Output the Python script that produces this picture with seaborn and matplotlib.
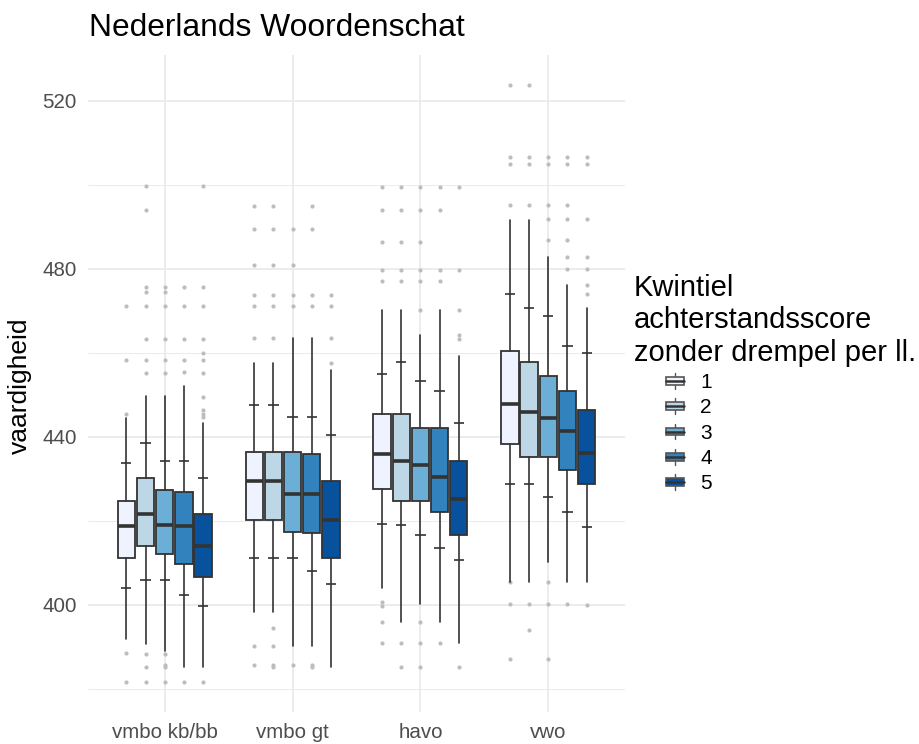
import numpy as np
import pandas as pd
import matplotlib
matplotlib.use("Agg")
import matplotlib.pyplot as plt
import seaborn as sns
from matplotlib.patches import Patch, Rectangle
from matplotlib.lines import Line2D
from matplotlib.legend_handler import HandlerBase

# ---------------- data ----------------
categories = ["vmbo kb/bb", "vmbo gt", "havo", "vwo"]
quintiles = ["1", "2", "3", "4", "5"]
colors = ["#EFF3FF", "#BDD7E7", "#6BAED6", "#3182BD", "#08519C"]

whisker_high = [[444.5, 449.8, 449.8, 452.1, 443.4],
                [457.6, 457.6, 463.6, 463.6, 456.0],
                [470.2, 470.2, 464.3, 470.2, 459.2],
                [491.7, 491.7, 482.8, 476.2, 470.7]]
tick_high = [[433.7, 438.6, 434.3, 434.3, 430.3],
             [447.6, 447.6, 444.8, 444.8, 440.5],
             [455.0, 457.9, 453.2, 451.0, 443.4],
             [474.0, 470.7, 468.8, 461.7, 460.0]]
q3 = [[424.7, 430.3, 427.3, 426.9, 421.7],
      [436.3, 436.3, 436.3, 435.9, 429.4],
      [445.4, 445.4, 442.1, 442.1, 434.3],
      [460.4, 457.9, 454.4, 451.0, 446.4]]
median = [[418.7, 421.7, 419.1, 418.7, 414.0],
          [429.4, 429.4, 426.3, 426.3, 420.2],
          [436.0, 434.3, 433.2, 430.4, 425.2],
          [447.8, 446.0, 444.6, 441.5, 436.1]]
q1 = [[411.1, 414.0, 412.0, 409.8, 406.7],
      [420.2, 420.2, 417.3, 417.1, 411.2],
      [427.6, 424.8, 424.8, 422.2, 416.7],
      [438.3, 435.2, 435.2, 432.0, 428.8]]
tick_low = [[403.9, 405.9, 405.9, 402.3, 399.8],
            [411.2, 411.2, 411.2, 408.1, 405.0],
            [419.3, 418.9, 416.7, 413.6, 410.8],
            [428.8, 428.8, 425.6, 422.0, 418.6]]
whisker_low = [[391.9, 390.8, 389.0, 385.1, 385.1],
               [398.3, 398.3, 390.1, 390.1, 385.2],
               [404.0, 395.9, 400.1, 395.9, 390.9],
               [405.5, 405.5, 410.1, 405.5, 405.5]]

outliers_kbbb = [
    [445.5, 458.2, 471.2, 388.6, 381.6],
    [499.8, 493.9, 475.7, 474.5, 471.2, 463.3, 458.2, 455.2, 388.2, 385.1, 381.6],
    [475.7, 474.5, 471.2, 463.3, 458.2, 455.2, 388.2, 385.8, 385.1, 381.6],
    [475.7, 471.2, 463.3, 458.2, 455.4, 381.6],
    [499.8, 475.7, 471.2, 463.3, 459.9, 458.2, 455.2, 449.6, 446.3, 445.5, 444.7, 381.6],
]
outliers_gt = [
    [494.9, 489.4, 480.8, 473.7, 471.1, 463.6, 390.3, 385.8],
    [494.9, 489.4, 480.8, 473.7, 471.1, 463.6, 394.4, 390.3, 385.8, 385.2],
    [489.4, 480.8, 473.7, 471.1, 385.8],
    [494.9, 489.4, 473.7, 471.1, 385.8, 385.2],
    [473.7, 471.1, 463.6, 457.6],
]
outliers_havo = [
    [499.4, 494.1, 486.5, 479.6, 477.0, 400.6, 399.8, 395.9, 390.9],
    [499.4, 494.1, 486.5, 479.6, 477.0, 390.9, 385.1],
    [499.4, 494.1, 486.5, 479.6, 477.0, 470.2, 395.9, 390.9, 385.1],
    [499.4, 494.1, 479.6, 477.0, 390.9],
    [499.4, 479.6, 470.2, 464.3, 463.3, 385.1],
]
outliers_vwo = [
    [523.8, 506.6, 504.9, 495.3, 405.5, 400.2, 387.2],
    [523.8, 506.6, 504.9, 495.3, 400.2, 394.1],
    [506.6, 504.9, 495.3, 491.8, 486.8, 405.5, 400.2, 387.2],
    [506.6, 504.9, 495.3, 491.8, 486.8, 482.9, 479.9, 400.2],
    [506.6, 504.9, 491.8, 482.9, 479.9, 476.2, 474.1, 400.0],
]
outliers = [outliers_kbbb, outliers_gt, outliers_havo, outliers_vwo]

title = "Nederlands Woordenschat"
y_label = "vaardigheid"
legend_title = "Kwintiel\nachterstandsscore\nzonder drempel per ll."

# ---------------- style ----------------
sns.set_theme(style="whitegrid")
plt.rcParams['font.family'] = ['Liberation Sans', 'DejaVu Sans']

EDGE = "#333333"
GRID = "#EBEBEB"
TICKC = "#4D4D4D"

fig = plt.figure(figsize=(9.19, 7.44), dpi=100)
ax = fig.add_axes([88 / 919, 1 - 712 / 744, (625 - 88) / 919, (712 - 55) / 744])
ax.set_facecolor("white")

dodge = 0.15
offsets = [(j - 2) * dodge for j in range(5)]
box_w = 0.135

# long-form table of box stats
rows = []
for i, cat in enumerate(categories):
    for j, qn in enumerate(quintiles):
        rows.append(dict(cat=cat, quint=qn, pos=i + offsets[j],
                         whislo=whisker_low[i][j], tlo=tick_low[i][j], q1=q1[i][j],
                         med=median[i][j], q3=q3[i][j], thi=tick_high[i][j],
                         whishi=whisker_high[i][j], color=colors[j]))
stats_df = pd.DataFrame(rows)

out_rows = []
for i, cat in enumerate(categories):
    for j, qn in enumerate(quintiles):
        for v in outliers[i][j]:
            out_rows.append(dict(pos=i + offsets[j], value=v, quint=qn))
out_df = pd.DataFrame(out_rows)

# outliers
sns.scatterplot(data=out_df, x="pos", y="value", color="#BDBDBD", s=9,
                linewidth=0, ax=ax, legend=False, zorder=2)

# boxes
bstats = [dict(med=r.med, q1=r.q1, q3=r.q3, whislo=r.whislo, whishi=r.whishi, fliers=[])
          for r in stats_df.itertuples()]
bp = ax.bxp(bstats, positions=stats_df["pos"].values, widths=box_w, patch_artist=True,
            showcaps=False, showfliers=False, manage_ticks=False,
            boxprops=dict(edgecolor=EDGE, linewidth=1.3),
            medianprops=dict(color=EDGE, linewidth=2.6, solid_capstyle="butt"),
            whiskerprops=dict(color=EDGE, linewidth=1.2))
for patch, c in zip(bp["boxes"], stats_df["color"]):
    patch.set_facecolor(c)
    patch.set_zorder(3)
for m in bp["medians"]:
    m.set_zorder(4)
for w in bp["whiskers"]:
    w.set_zorder(3)

# crossbar ticks
tw = 0.04
ax.hlines(stats_df["thi"], stats_df["pos"] - tw, stats_df["pos"] + tw, color=EDGE, lw=1.2, zorder=3)
ax.hlines(stats_df["tlo"], stats_df["pos"] - tw, stats_df["pos"] + tw, color=EDGE, lw=1.2, zorder=3)

# axes
ax.set_xlim(-0.6, 3.6)
ax.set_ylim(374.5, 530.9)
ax.set_xticks(range(len(categories)))
ax.set_xticklabels(categories)
ax.set_yticks([400, 440, 480, 520])
ax.set_yticks([380, 420, 460, 500], minor=True)
ax.grid(which="major", color=GRID, lw=1.3)
ax.grid(which="minor", axis="y", color=GRID, lw=0.7)
ax.xaxis.grid(True, which="major", color=GRID, lw=1.3)
ax.set_axisbelow(True)
for s in ax.spines.values():
    s.set_visible(False)
ax.tick_params(which="both", length=0, labelcolor=TICKC, labelsize=14.8)
ax.tick_params(axis="x", pad=8)
ax.tick_params(axis="y", pad=8)
ax.set_xlabel("")
ax.set_ylabel("")

fig.text(89 / 919, 1 - 36 / 744, title, fontsize=22.9, color="black", va="baseline", ha="left")
fig.text(20 / 919, 1 - 386 / 744, y_label, fontsize=19, color="black", rotation=90,
         va="center", ha="center")

# legend title
fig.text(634 / 919, 1 - 274 / 744, legend_title, fontsize=21, color="black",
         va="top", ha="left", linespacing=1.2)


# legend with boxplot keys
class BoxHandler(HandlerBase):
    def create_artists(self, legend, orig_handle, xdescent, ydescent, width, height, fontsize, trans):
        x0, y0 = -xdescent, -ydescent
        cx = x0 + width / 2
        fc = orig_handle.get_facecolor()
        box = Rectangle((x0 + width * 0.06, y0 + height * 0.25), width * 0.88, height * 0.5,
                        facecolor=fc, edgecolor="#555555", lw=1.2, transform=trans)
        med = Line2D([x0 + width * 0.06, x0 + width * 0.94], [y0 + height * 0.5] * 2,
                     color=EDGE, lw=1.8, transform=trans)
        wt = Line2D([cx, cx], [y0 + height * 0.75, y0 + height], color="#555555", lw=1.0, transform=trans)
        wb = Line2D([cx, cx], [y0, y0 + height * 0.25], color="#555555", lw=1.0, transform=trans)
        return [wt, wb, box, med]


handles = [Patch(facecolor=c, edgecolor=EDGE) for c in colors]
leg = fig.legend(handles, quintiles, loc="upper left",
                 bbox_to_anchor=(665 / 919, 1 - 373 / 744), frameon=False,
                 handler_map={Patch: BoxHandler()}, fontsize=15,
                 borderpad=0, labelspacing=0.3, handlelength=0.95,
                 handleheight=0.78, handletextpad=0.75, borderaxespad=0)
for t in leg.get_texts():
    t.set_color("black")

fig.savefig("out.png", dpi=100, facecolor="white")
